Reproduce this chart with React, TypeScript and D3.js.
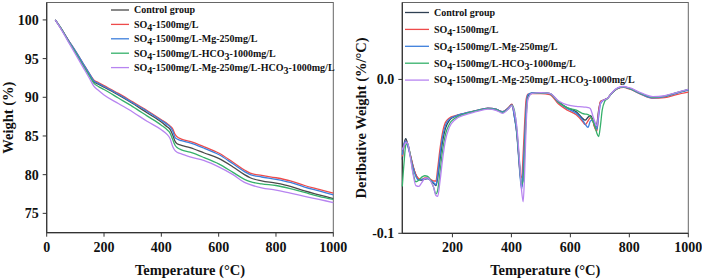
import React from 'react';
import * as d3 from 'd3';

// series shared by both panels
const seriesLabels = [
  'Control group',
  'SO4-1500mg/L',
  'SO4-1500mg/L-Mg-250mg/L',
  'SO4-1500mg/L-HCO3-1000mg/L',
  'SO4-1500mg/L-Mg-250mg/L-HCO3-1000mg/L',
];
const tgColors = ['#4a4a4a', '#ee4b4b', '#3d7fdc', '#35b06a', '#b784f0'];
const dtgColors = ['#2f4053', '#ee4b4b', '#3d7fdc', '#35b06a', '#b784f0'];

// TG curves (weight %)
const tgTemp = [30, 50, 75, 100, 125, 150, 165, 180, 200, 250, 300, 350, 400, 420, 430, 440, 448, 455, 470, 500, 550, 600, 650, 690, 710, 750, 800, 850, 900, 950, 1000];
const tgControl = [100, 98.9, 97.4, 95.9, 94.4, 92.9, 92.0, 91.7, 91.3, 90.3, 89.2, 88.0, 86.8, 86.2, 85.9, 85.1, 84.3, 84.0, 83.8, 83.5, 82.8, 82.1, 81.0, 80.0, 79.6, 79.2, 78.9, 78.5, 77.9, 77.4, 76.9];
const tgSO4 = [100, 98.9, 97.4, 96.0, 94.5, 93.0, 92.2, 91.9, 91.5, 90.5, 89.4, 88.3, 87.1, 86.6, 86.3, 85.9, 85.2, 84.9, 84.6, 84.3, 83.6, 82.8, 81.6, 80.6, 80.2, 79.9, 79.6, 79.2, 78.6, 78.1, 77.6];
const tgSO4Mg = [100, 98.9, 97.4, 96.0, 94.5, 93.0, 92.1, 91.8, 91.4, 90.4, 89.3, 88.2, 87.0, 86.5, 86.2, 85.6, 84.8, 84.6, 84.4, 84.1, 83.4, 82.6, 81.4, 80.4, 80.0, 79.7, 79.4, 79.0, 78.4, 77.9, 77.4];
const tgSO4HCO3 = [100, 98.9, 97.3, 95.8, 94.2, 92.7, 91.8, 91.4, 91.0, 89.9, 88.8, 87.6, 86.4, 85.8, 85.4, 84.5, 83.8, 83.5, 83.2, 82.9, 82.2, 81.4, 80.3, 79.4, 79.1, 78.8, 78.6, 78.2, 77.7, 77.2, 76.8];
const tgSO4MgHCO3 = [100, 98.8, 97.2, 95.6, 94.0, 92.4, 91.4, 90.9, 90.3, 89.2, 88.1, 86.9, 85.8, 85.2, 84.7, 83.6, 83.1, 82.9, 82.7, 82.3, 81.8, 81.0, 80.0, 79.0, 78.7, 78.3, 78.0, 77.6, 77.2, 76.8, 76.4];

// DTG curves (%/°C)
const dtgTemp = [30, 36, 42, 48, 56, 66, 76, 86, 96, 106, 116, 126, 136, 144, 150, 158, 166, 176, 190, 210, 240, 280, 320, 350, 370, 390, 402, 410, 418, 425, 430, 435, 440, 445, 450, 456, 470, 500, 530, 560, 590, 620, 640, 650, 660, 668, 676, 684, 690, 696, 702, 708, 716, 726, 740, 760, 780, 800, 840, 880, 920, 960, 1000];
const dtgControl = [-0.052, -0.042, -0.0385, -0.042, -0.048, -0.056, -0.062, -0.065, -0.0655, -0.0648, -0.0645, -0.0655, -0.0675, -0.069, -0.064, -0.052, -0.041, -0.032, -0.0265, -0.024, -0.0222, -0.0205, -0.0188, -0.0195, -0.0212, -0.0185, -0.0163, -0.024, -0.034, -0.05, -0.062, -0.07, -0.061, -0.044, -0.022, -0.011, -0.0088, -0.0086, -0.0091, -0.0145, -0.0185, -0.021, -0.025, -0.0265, -0.0245, -0.0235, -0.026, -0.0315, -0.029, -0.02, -0.0148, -0.0138, -0.0132, -0.0122, -0.009, -0.0058, -0.0049, -0.0058, -0.0092, -0.0118, -0.011, -0.0088, -0.0066];
const dtgSO4 = [-0.05, -0.043, -0.04, -0.042, -0.048, -0.056, -0.062, -0.0645, -0.065, -0.064, -0.064, -0.065, -0.066, -0.066, -0.058, -0.045, -0.035, -0.028, -0.025, -0.0235, -0.022, -0.0203, -0.0187, -0.0195, -0.021, -0.0183, -0.016, -0.023, -0.034, -0.05, -0.062, -0.064, -0.048, -0.028, -0.013, -0.0095, -0.0092, -0.0092, -0.0098, -0.016, -0.02, -0.023, -0.027, -0.0294, -0.027, -0.0248, -0.027, -0.032, -0.0337, -0.021, -0.0142, -0.0138, -0.0132, -0.0122, -0.009, -0.006, -0.0052, -0.0062, -0.0097, -0.0122, -0.0118, -0.0098, -0.0082];
const dtgSO4Mg = [-0.049, -0.042, -0.04, -0.043, -0.049, -0.057, -0.063, -0.0655, -0.065, -0.0645, -0.0645, -0.0655, -0.067, -0.0685, -0.062, -0.049, -0.038, -0.03, -0.0258, -0.0238, -0.022, -0.0203, -0.0187, -0.0195, -0.021, -0.0185, -0.0165, -0.024, -0.035, -0.052, -0.064, -0.0715, -0.058, -0.038, -0.018, -0.01, -0.0088, -0.0087, -0.0092, -0.015, -0.019, -0.022, -0.026, -0.029, -0.0312, -0.027, -0.0265, -0.03, -0.0325, -0.024, -0.016, -0.0142, -0.0133, -0.0123, -0.009, -0.0058, -0.005, -0.006, -0.0095, -0.012, -0.0112, -0.009, -0.007];
const dtgSO4HCO3 = [-0.0696, -0.054, -0.0425, -0.0415, -0.048, -0.06, -0.0665, -0.0655, -0.0635, -0.0626, -0.063, -0.0655, -0.07, -0.0745, -0.072, -0.06, -0.047, -0.036, -0.029, -0.025, -0.0225, -0.0205, -0.019, -0.0198, -0.0215, -0.019, -0.0168, -0.02, -0.032, -0.048, -0.06, -0.068, -0.066, -0.048, -0.025, -0.012, -0.009, -0.0088, -0.0092, -0.0148, -0.0185, -0.02, -0.022, -0.0225, -0.0228, -0.024, -0.027, -0.031, -0.035, -0.0372, -0.03, -0.02, -0.0145, -0.0125, -0.009, -0.0058, -0.0049, -0.0058, -0.0092, -0.0116, -0.0108, -0.0086, -0.0064];
const dtgSO4MgHCO3 = [-0.0457, -0.043, -0.041, -0.0415, -0.049, -0.061, -0.069, -0.0695, -0.067, -0.0645, -0.064, -0.066, -0.07, -0.0755, -0.076, -0.066, -0.053, -0.04, -0.031, -0.026, -0.0232, -0.021, -0.0193, -0.0202, -0.022, -0.0192, -0.017, -0.021, -0.03, -0.046, -0.06, -0.073, -0.0795, -0.06, -0.03, -0.013, -0.009, -0.0086, -0.0091, -0.014, -0.0165, -0.0175, -0.0178, -0.018, -0.0183, -0.019, -0.0235, -0.028, -0.0304, -0.022, -0.0155, -0.014, -0.0132, -0.0122, -0.0088, -0.0055, -0.0046, -0.0054, -0.0088, -0.0112, -0.0106, -0.0085, -0.0064];

const tgSeries = [tgControl, tgSO4, tgSO4Mg, tgSO4HCO3, tgSO4MgHCO3];
const dtgSeries = [dtgControl, dtgSO4, dtgSO4Mg, dtgSO4HCO3, dtgSO4MgHCO3];

const tgXTicks = [0, 200, 400, 600, 800, 1000];
const tgYTicks = [75, 80, 85, 90, 95, 100];
const dtgXTicks = [200, 400, 600, 800, 1000];
const dtgYTicks = [-0.1, 0.0];

const FONT = '"Liberation Serif", "Times New Roman", serif';

// SO4 / HCO3 are drawn with a lowered digit; the next run shifts back up
const Label: React.FC<{ text: string }> = ({ text }) => {
  const parts = text.split(/(SO4|HCO3)/).filter((p) => p.length);
  const runs: { t: string; dy: number }[] = [];
  let shift = 0;
  parts.forEach((p) => {
    if (p === 'SO4' || p === 'HCO3') {
      runs.push({ t: p.slice(0, -1), dy: -shift });
      runs.push({ t: p.slice(-1), dy: 3 });
      shift = 3;
    } else {
      runs.push({ t: p, dy: -shift });
      shift = 0;
    }
  });
  return (
    <>
      {runs.map((r, i) => (
        <tspan key={i} dy={r.dy || undefined}>{r.t}</tspan>
      ))}
    </>
  );
};

interface PanelProps {
  box: { left: number; right: number; top: number; bottom: number };
  x: d3.ScaleLinear<number, number>;
  y: d3.ScaleLinear<number, number>;
  temps: number[];
  series: number[][];
  colors: string[];
  xTicks: number[];
  yTicks: number[];
  yFormat: (v: number) => string;
  yTitle: string;
  yTitleX: number;
  legend: { x: number; y: number; step: number; len: number };
}

const Panel: React.FC<PanelProps> = ({ box, x, y, temps, series, colors, xTicks, yTicks, yFormat, yTitle, yTitleX, legend }) => {
  const line = d3
    .line<number>()
    .x((_, i) => x(temps[i]))
    .y((d) => y(d))
    .curve(d3.curveMonotoneX);
  const midY = (box.top + box.bottom) / 2;
  return (
    <g fontFamily={FONT} fontWeight="bold" fill="#111">
      <rect x={box.left} y={box.top} width={box.right - box.left} height={box.bottom - box.top} fill="none" stroke="#666" strokeWidth={1} />
      <line x1={box.left} x2={box.left} y1={box.top} y2={box.bottom} stroke="#333" strokeWidth={1.2} />
      <line x1={box.left} x2={box.right} y1={box.bottom} y2={box.bottom} stroke="#333" strokeWidth={1.2} />
      {series.map((vals, i) => (
        <path key={i} d={line(vals) || undefined} fill="none" stroke={colors[i]} strokeWidth={1.3} />
      ))}
      {xTicks.map((t) => (
        <g key={t} transform={`translate(${x(t)},${box.bottom})`}>
          <line y2={4} stroke="#333" />
          <text y={19} textAnchor="middle" fontSize={14}>{t}</text>
        </g>
      ))}
      {yTicks.map((t) => (
        <g key={t} transform={`translate(${box.left},${y(t)})`}>
          <line x2={-4} stroke="#333" />
          <text x={-8} dy="0.35em" textAnchor="end" fontSize={14}>{yFormat(t)}</text>
        </g>
      ))}
      <text x={(box.left + box.right) / 2} y={274.5} textAnchor="middle" fontSize={14.5}>Temperature (°C)</text>
      <text transform={`translate(${yTitleX},${midY}) rotate(-90)`} textAnchor="middle" fontSize={14.5}>{yTitle}</text>
      {seriesLabels.map((label, i) => {
        const ly = legend.y + i * legend.step;
        return (
          <g key={label}>
            <line x1={legend.x} x2={legend.x + legend.len} y1={ly} y2={ly} stroke={colors[i]} strokeWidth={1.3} />
            <text x={legend.x + legend.len + 5} y={ly} dy="0.33em" fontSize={10}>
              <Label text={label} />
            </text>
          </g>
        );
      })}
    </g>
  );
};

export default function App() {
  const tgBox = { left: 46.7, right: 333.3, top: 2.5, bottom: 232.7 };
  const dtgBox = { left: 402.3, right: 688.3, top: 2.5, bottom: 233.3 };

  const tgX = d3.scaleLinear().domain([0, 1000]).range([tgBox.left, tgBox.right]);
  const tgY = d3.scaleLinear().domain([72.5, 102.25]).range([tgBox.bottom, tgBox.top]);
  const dtgX = d3.scaleLinear().domain([30, 1000]).range([dtgBox.left, dtgBox.right]);
  const dtgY = d3.scaleLinear().domain([-0.1, 0.05]).range([dtgBox.bottom, dtgBox.top]);

  return (
    <svg width={702} height={280} style={{ position: 'absolute', left: 0, top: 0, background: '#fff' }}>
      <Panel
        box={tgBox}
        x={tgX}
        y={tgY}
        temps={tgTemp}
        series={tgSeries}
        colors={tgColors}
        xTicks={tgXTicks}
        yTicks={tgYTicks}
        yFormat={(v) => String(v)}
        yTitle="Weight (%)"
        yTitleX={13}
        legend={{ x: 111, y: 10, step: 14.4, len: 18 }}
      />
      <Panel
        box={dtgBox}
        x={dtgX}
        y={dtgY}
        temps={dtgTemp}
        series={dtgSeries}
        colors={dtgColors}
        xTicks={dtgXTicks}
        yTicks={dtgYTicks}
        yFormat={(v) => d3.format('.1f')(v).replace('−', '-')}
        yTitle="Deribative Weight (%/°C)"
        yTitleX={366}
        legend={{ x: 405, y: 12.5, step: 16.9, len: 24 }}
      />
    </svg>
  );
}
